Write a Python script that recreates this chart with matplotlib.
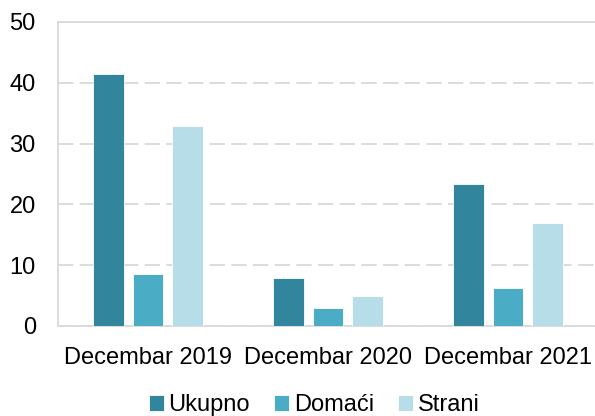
import matplotlib
matplotlib.use("Agg")
import matplotlib.pyplot as plt
import numpy as np

plt.rcParams["font.family"] = ["Liberation Sans", "DejaVu Sans"]

categories = ["Decembar 2019", "Decembar 2020", "Decembar 2021"]
series_names = ["Ukupno", "Domaći", "Strani"]
ukupno = [41.4, 7.8, 23.3]
domaci = [8.5, 2.9, 6.3]
strani = [32.9, 4.95, 16.9]
colors = ["#31859C", "#4BACC6", "#B7DEE8"]

fig = plt.figure(figsize=(5.95, 4.16), dpi=100)
ax = fig.add_axes([58 / 595, 1 - 325.8 / 416, 540 / 595, (325.8 - 22) / 416])

x = np.arange(len(categories))
width = 0.172
step = 0.222
for i, (vals, name) in enumerate(zip([ukupno, domaci, strani], series_names)):
    ax.bar(
        x + (i - 1) * step,
        vals,
        width=width,
        color=colors[i],
        edgecolor="white",
        linewidth=0.6,
        label=name,
        zorder=3,
    )

ax.set_ylim(0, 50)
ax.set_xlim(-0.5, 2.5)
ax.set_yticks([0, 10, 20, 30, 40, 50])
ax.set_xticks(x)
ax.set_xticklabels(categories)
ax.tick_params(axis="both", length=0, labelsize=17, colors="black")
ax.tick_params(axis="y", pad=16)
ax.tick_params(axis="x", pad=15)

ax.yaxis.grid(True, color="#D9D9D9", linestyle=(0, (8.5, 3.5)), linewidth=1.3, zorder=0)
for s in ax.spines.values():
    s.set_color("#D9D9D9")
    s.set_linewidth(1.3)

fig.legend(
    loc="center",
    bbox_to_anchor=(314 / 595, 1 - 405 / 416),
    ncol=3,
    frameon=False,
    fontsize=17,
    handlelength=0.65,
    handleheight=0.65,
    handletextpad=0.2,
    columnspacing=1.0,
)

fig.savefig("out.png", dpi=100)
